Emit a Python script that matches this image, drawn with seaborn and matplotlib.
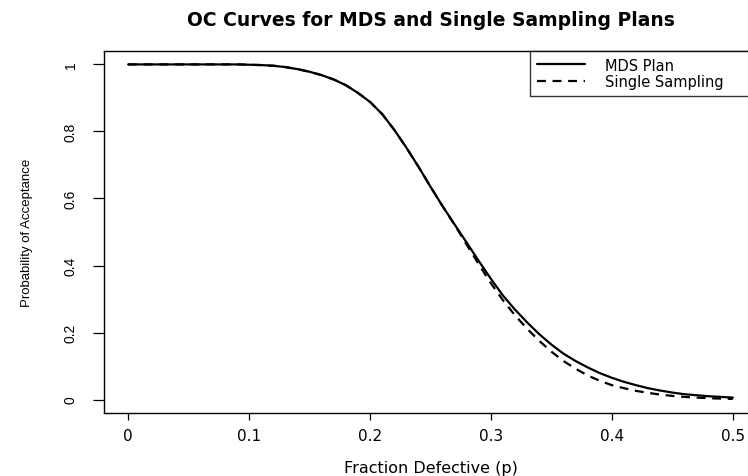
import numpy as np
import pandas as pd
import seaborn as sns
import matplotlib.pyplot as plt

# Fração defeituosa e probabilidades de aceitação
p = [0.00, 0.01, 0.02, 0.03, 0.04, 0.05, 0.06, 0.07, 0.08, 0.09,
     0.10, 0.11, 0.12, 0.13, 0.14, 0.15, 0.16, 0.17, 0.18, 0.19,
     0.20, 0.21, 0.22, 0.23, 0.24, 0.25, 0.26, 0.27, 0.28, 0.29,
     0.30, 0.31, 0.32, 0.33, 0.34, 0.35, 0.36, 0.37, 0.38, 0.39,
     0.40, 0.41, 0.42, 0.43, 0.44, 0.45, 0.46, 0.47, 0.48, 0.49, 0.50]

pa_mds = [1.000, 1.000, 1.000, 1.000, 1.000, 1.000, 1.000, 1.000, 1.000, 1.000,
          0.999, 0.998, 0.996, 0.992, 0.986, 0.978, 0.968, 0.955, 0.938, 0.915,
          0.888, 0.852, 0.805, 0.752, 0.695, 0.635, 0.577, 0.522, 0.468, 0.413,
          0.360, 0.310, 0.268, 0.230, 0.195, 0.164, 0.137, 0.115, 0.096, 0.079,
          0.065, 0.053, 0.043, 0.034, 0.027, 0.021, 0.016, 0.013, 0.010, 0.008, 0.006]

pa_single = [1.000, 1.000, 1.000, 1.000, 1.000, 1.000, 1.000, 1.000, 1.000, 1.000,
             0.999, 0.998, 0.996, 0.992, 0.986, 0.978, 0.968, 0.955, 0.938, 0.915,
             0.888, 0.852, 0.805, 0.752, 0.695, 0.635, 0.577, 0.521, 0.462, 0.403,
             0.347, 0.296, 0.251, 0.211, 0.175, 0.143, 0.115, 0.092, 0.072, 0.056,
             0.043, 0.034, 0.026, 0.020, 0.015, 0.011, 0.008, 0.006, 0.004, 0.003, 0.002]

x_ticks = [0, 0.1, 0.2, 0.3, 0.4, 0.5]
x_labels = ['0', '0.1', '0.2', '0.3', '0.4', '0.5']
y_ticks = [0, 0.2, 0.4, 0.6, 0.8, 1.0]
y_labels = ['0', '0.2', '0.4', '0.6', '0.8', '1']

df = pd.DataFrame({'p': p, 'mds': pa_mds, 'single': pa_single})

sns.set_style("ticks")
plt.rcParams['font.family'] = ['DejaVu Sans']
plt.rcParams['text.color'] = 'black'
plt.rcParams['axes.labelcolor'] = 'black'

fig = plt.figure(figsize=(7.48, 4.77), dpi=100)
# a caixa do gráfico passa da borda direita, como na imagem original
ax = fig.add_axes([104 / 748, 63 / 477, 653 / 748, 362 / 477])

sns.lineplot(data=df, x='p', y='single', ax=ax, color='black', linewidth=1.6,
             dashes=False, linestyle=(0, (4, 3)), label='Single Sampling')
sns.lineplot(data=df, x='p', y='mds', ax=ax, color='black', linewidth=1.6,
             label='MDS Plan')

ax.set_xlim(-0.02, 0.52)
ax.set_ylim(-0.04, 1.04)

ax.set_xticks(x_ticks)
ax.set_xticklabels(x_labels, fontsize=11)
ax.set_yticks(y_ticks)
ax.set_yticklabels(y_labels, fontsize=10, family='Liberation Sans',
                   rotation=90, va='center')
ax.tick_params(axis='x', length=5, width=0.9, pad=6, colors='black')
ax.tick_params(axis='y', length=8, width=0.9, pad=11, colors='black')
for s in ax.spines.values():
    s.set_visible(True)
    s.set_color('black')
    s.set_linewidth(1.0)

ax.set_xlabel('Fraction Defective (p)', fontsize=11.5)
ax.xaxis.set_label_coords(0.5, -0.13)
ax.set_ylabel('Probability of Acceptance', fontsize=9.5, family='Liberation Sans')
ax.yaxis.set_label_coords(-0.109, 0.5)

ax.set_title('OC Curves for MDS and Single Sampling Plans', fontweight='bold',
             fontsize=13.5, pad=19, color='black')

# legenda no canto superior direito, com a ordem MDS / Single
h, l = ax.get_legend_handles_labels()
ax.get_legend().remove()
leg = fig.legend([h[1], h[0]], [l[1], l[0]], loc='upper left',
                 bbox_to_anchor=(530 / 748, 0, 240 / 748, 425 / 477),
                 mode='expand', borderaxespad=0, fontsize=10.5,
                 frameon=True, fancybox=False, edgecolor='black',
                 handlelength=3.3, handletextpad=1.4, borderpad=0.45,
                 labelspacing=0.1)
leg.get_frame().set_linewidth(1.0)

plt.savefig('out.png', dpi=100)
plt.close()
